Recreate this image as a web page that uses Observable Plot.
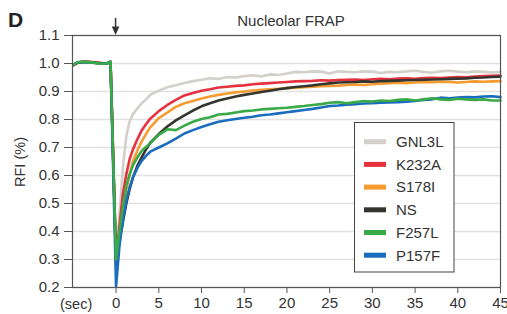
<!DOCTYPE html>
<html>
<head>
<meta charset="utf-8">
<script src="https://cdn.jsdelivr.net/npm/d3@7"></script>
<script src="https://cdn.jsdelivr.net/npm/@observablehq/plot@0.6"></script>
<style>
  html, body { margin: 0; padding: 0; background: #fff; }
  #chart { width: 507px; height: 314px; }
</style>
</head>
<body>
<div id="chart"></div>
<script>
// ---- data ----
const seriesNames = ["GNL3L", "K232A", "S178I", "NS", "F257L", "P157F"];
const seriesColors = ["#d3cfcb", "#e63240", "#f59b2f", "#35352f", "#3aaa48", "#1a6dbd"];
const drawOrder = ["GNL3L", "K232A", "S178I", "NS", "P157F", "F257L"];

const xTicks = [0, 5, 10, 15, 20, 25, 30, 35, 40, 45];
const yTicks = [0.2, 0.3, 0.4, 0.5, 0.6, 0.7, 0.8, 0.9, 1.0, 1.1];

const time = [-5, -4.5, -4, -3.5, -3, -2.5, -2, -1.5, -1, -0.65,
  0, 0.4, 0.8, 1.2, 1.6, 2, 2.5, 3, 3.5, 4,
  5, 6, 7, 8, 9, 10, 11, 12, 13, 14, 15, 16, 17, 18, 19, 20, 21, 22, 23, 24,
  25, 26, 27, 28, 29, 30, 31, 32, 33, 34, 35, 36, 37, 38, 39, 40, 41, 42, 43, 44, 45];

const GNL3L = [0.995, 1.003, 1.005, 1.004, 1.003, 1.002, 1.001, 1.0, 1.002, 1.006,
  0.31, 0.46, 0.63, 0.74, 0.795, 0.82, 0.84, 0.858, 0.872, 0.888,
  0.903, 0.915, 0.922, 0.93, 0.937, 0.942, 0.947, 0.945, 0.952, 0.950,
  0.955, 0.958, 0.954, 0.961, 0.959, 0.964, 0.970, 0.969, 0.972, 0.971,
  0.964, 0.972, 0.970, 0.969, 0.972, 0.971, 0.966, 0.970, 0.969, 0.972,
  0.974, 0.970, 0.967, 0.972, 0.974, 0.971, 0.969, 0.972, 0.970, 0.968, 0.970];
const K232A = [0.993, 1.002, 1.006, 1.007, 1.006, 1.004, 1.003, 1.001, 1.002, 1.005,
  0.30, 0.42, 0.535, 0.605, 0.66, 0.695, 0.73, 0.761, 0.783, 0.803,
  0.83, 0.852, 0.870, 0.886, 0.895, 0.903, 0.908, 0.914, 0.917, 0.92,
  0.922, 0.926, 0.928, 0.93, 0.932, 0.934, 0.936, 0.937, 0.938, 0.94,
  0.939, 0.941, 0.942, 0.943, 0.941, 0.944, 0.945, 0.944, 0.946, 0.947,
  0.945, 0.948, 0.949, 0.948, 0.950, 0.952, 0.951, 0.953, 0.955, 0.956, 0.957];
const S178I = [0.994, 1.003, 1.005, 1.006, 1.004, 1.003, 1.002, 1.0, 1.002, 1.006,
  0.28, 0.38, 0.47, 0.55, 0.605, 0.652, 0.69, 0.722, 0.748, 0.772,
  0.805, 0.825, 0.845, 0.858, 0.866, 0.875, 0.882, 0.888, 0.893, 0.897,
  0.90, 0.903, 0.906, 0.908, 0.91, 0.912, 0.914, 0.915, 0.917, 0.919,
  0.92, 0.921, 0.923, 0.925, 0.923, 0.926, 0.928, 0.930, 0.931, 0.930,
  0.932, 0.934, 0.933, 0.935, 0.934, 0.932, 0.934, 0.936, 0.935, 0.936, 0.937];
const NS = [0.995, 1.003, 1.005, 1.005, 1.004, 1.003, 1.001, 1.0, 1.001, 1.006,
  0.29, 0.37, 0.435, 0.50, 0.553, 0.595, 0.635, 0.665, 0.693, 0.717,
  0.748, 0.775, 0.797, 0.815, 0.832, 0.847, 0.858, 0.868, 0.875, 0.882,
  0.888, 0.893, 0.898, 0.903, 0.908, 0.912, 0.916, 0.919, 0.922, 0.926,
  0.929, 0.932, 0.933, 0.934, 0.936, 0.935, 0.937, 0.938, 0.939, 0.940,
  0.941, 0.942, 0.943, 0.944, 0.945, 0.946, 0.947, 0.949, 0.950, 0.952, 0.953];
const F257L = [0.996, 1.004, 1.006, 1.005, 1.004, 1.003, 1.000, 0.999, 1.001, 1.007,
  0.30, 0.40, 0.49, 0.565, 0.605, 0.638, 0.665, 0.688, 0.702, 0.715,
  0.745, 0.765, 0.762, 0.778, 0.792, 0.802, 0.808, 0.818, 0.82, 0.825,
  0.83, 0.832, 0.836, 0.838, 0.84, 0.842, 0.845, 0.848, 0.852, 0.855,
  0.86, 0.862, 0.858, 0.862, 0.866, 0.864, 0.868, 0.866, 0.870, 0.872,
  0.868, 0.872, 0.876, 0.872, 0.870, 0.874, 0.872, 0.870, 0.872, 0.868, 0.868];
const P157F = [0.995, 1.004, 1.005, 1.005, 1.004, 1.002, 1.001, 1.0, 1.002, 1.006,
  0.205, 0.35, 0.44, 0.51, 0.56, 0.595, 0.627, 0.652, 0.67, 0.685,
  0.70, 0.715, 0.732, 0.75, 0.762, 0.773, 0.783, 0.792, 0.797, 0.802,
  0.806, 0.810, 0.815, 0.818, 0.822, 0.826, 0.83, 0.834, 0.838, 0.843,
  0.848, 0.85, 0.853, 0.855, 0.857, 0.858, 0.86, 0.861, 0.862, 0.864,
  0.866, 0.870, 0.872, 0.878, 0.876, 0.878, 0.880, 0.879, 0.882, 0.883, 0.880];

const valuesBySeries = { GNL3L, K232A, S178I, NS, F257L, P157F };

// ---- build table ----
const rows = [];
for (const name of drawOrder) {
  valuesBySeries[name].forEach((v, i) => rows.push({ series: name, t: time[i], v }));
}

const font = "'Liberation Sans', Arial, Helvetica, sans-serif";

const chart = Plot.plot({
  width: 507,
  height: 314,
  marginLeft: 72,
  marginRight: 7,
  marginTop: 35,
  marginBottom: 27,
  style: { fontFamily: font, fontSize: "15px", color: "#333", background: "#fff" },
  x: { domain: [-5.1, 45] },
  y: { domain: [0.2, 1.1] },
  color: { domain: seriesNames, range: seriesColors },
  marks: [
    Plot.gridY(yTicks, { stroke: "#e2e2e2", strokeOpacity: 1, strokeWidth: 1.3 }),
    Plot.line(rows, { x: "t", y: "v", z: "series", stroke: "series", strokeWidth: 2.6, strokeLinejoin: "round", strokeLinecap: "round" }),
    Plot.frame({ stroke: "#555", strokeWidth: 1.2 }),
    Plot.axisX(xTicks, { tickSize: 6, tickPadding: 4, label: null, stroke: "#555", fontSize: 15 }),
    Plot.axisY(yTicks, { tickSize: 8, tickPadding: 5, label: null, stroke: "#555", fontSize: 15, tickFormat: d => d.toFixed(1) })
  ]
});

document.getElementById("chart").appendChild(chart);

// ---- annotations ----
const svg = d3.select(chart);
const xs = chart.scale("x");
const x0 = xs.apply(0);

svg.append("text").attr("x", 8).attr("y", 27).attr("text-anchor", "start").attr("font-family", font)
  .attr("font-weight", "bold").attr("font-size", 21).attr("fill", "#222").text("D");

svg.append("text").attr("x", 291).attr("y", 26).attr("text-anchor", "middle")
  .attr("font-family", font).attr("font-size", 15).attr("fill", "#333").text("Nucleolar FRAP");

svg.append("line").attr("x1", x0).attr("x2", x0).attr("y1", 18).attr("y2", 28)
  .attr("stroke", "#333").attr("stroke-width", 1.5);
svg.append("path").attr("d", `M${x0 - 3.8},26.5 L${x0 + 3.8},26.5 L${x0},35 Z`).attr("fill", "#333");

svg.append("text").attr("x", 60).attr("y", 309).attr("text-anchor", "start").attr("font-family", font)
  .attr("font-size", 14.5).attr("fill", "#333").text("(sec)");

svg.append("text").attr("transform", "translate(25,162) rotate(-90)").attr("text-anchor", "middle")
  .attr("font-family", font).attr("font-size", 14.5).attr("fill", "#333").text("RFI (%)");

// legend
const lg = svg.append("g");
lg.append("rect").attr("x", 354.5).attr("y", 122.5).attr("width", 99.5).attr("height", 149.5)
  .attr("fill", "#fff").attr("stroke", "#444").attr("stroke-width", 1);
seriesNames.forEach((name, i) => {
  const cy = 141.7 + i * 22.7;
  lg.append("rect").attr("x", 364).attr("y", cy - 2.5).attr("width", 22).attr("height", 5)
    .attr("fill", seriesColors[i]);
  lg.append("text").attr("x", 396).attr("y", cy + 5.3).attr("text-anchor", "start").attr("font-family", font)
    .attr("font-size", 15).attr("fill", "#333").text(name);
});
</script>
</body>
</html>
